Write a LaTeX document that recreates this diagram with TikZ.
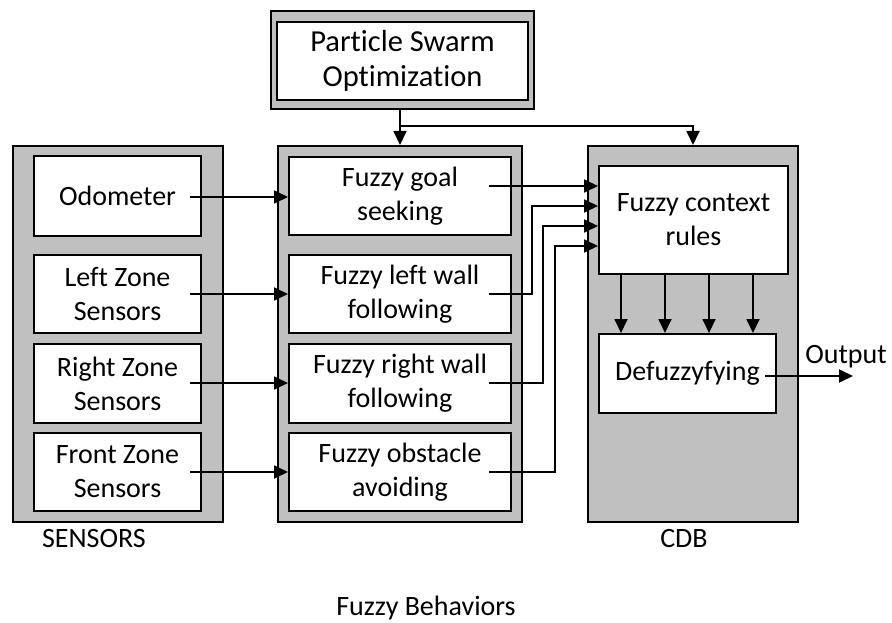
\documentclass[tikz,border=0pt]{standalone}
\usepackage{fontspec}
\setmainfont{Carlito}[Ligatures=NoCommon]
\usetikzlibrary{arrows.meta}
\definecolor{boxgray}{RGB}{192,192,192}
\begin{document}
\begin{tikzpicture}[x=1pt,y=-1pt,
  font=\fontsize{28}{34}\selectfont,
  outerbox/.style={draw, line width=2pt, fill=boxgray, inner sep=0pt},
  innerbox/.style={draw, line width=2pt, fill=white, align=center, inner sep=0pt},
  conn/.style={line width=1.8pt, -{Triangle[length=14pt,width=13pt]}},
  lbl/.style={anchor=base, inner sep=0pt}]
\useasboundingbox (0,0) rectangle (892,623);
% outer boxes
\node[outerbox, minimum width=263pt, minimum height=98pt] (psoo) at (402.5,60) {};
\node[outerbox, minimum width=210pt, minimum height=376pt] (sens) at (117.5,334) {};
\node[outerbox, minimum width=244pt, minimum height=376pt] (beh) at (400,334) {};
\node[outerbox, minimum width=210pt, minimum height=376pt] (cdb) at (693,334) {};
% PSO
\node[innerbox, minimum width=251pt, minimum height=78pt, font=\fontsize{30.5}{35}\selectfont] (pso) at (402.5,61) {Particle Swarm\\Optimization};
% sensors
\node[innerbox, minimum width=167pt, minimum height=80pt] (odo) at (117.5,196) {Odometer};
\node[innerbox, minimum width=167pt, minimum height=78pt] (lzs) at (117.5,294) {Left Zone\\Sensors};
\node[innerbox, minimum width=167pt, minimum height=79pt] (rzs) at (117.5,383.5) {Right Zone\\Sensors};
\node[innerbox, minimum width=167pt, minimum height=78pt] (fzs) at (117.5,472) {Front Zone\\Sensors};
% behaviors
\node[innerbox, minimum width=222pt, minimum height=78pt] (goal) at (400,196) {Fuzzy goal\\seeking};
\node[innerbox, minimum width=222pt, minimum height=78pt] (lwf) at (400,294) {Fuzzy left wall\\following};
\node[innerbox, minimum width=222pt, minimum height=79pt] (rwf) at (400,383.5) {Fuzzy right wall\\following};
\node[innerbox, minimum width=222pt, minimum height=78pt] (obs) at (400,472) {Fuzzy obstacle\\avoiding};
% CDB
\node[innerbox, minimum width=189pt, minimum height=108pt] (ctx) at (693.5,220) {Fuzzy context\\rules};
\node[innerbox, minimum width=177pt, minimum height=79pt] (def) at (687.5,373.5) {Defuzzyfying};
% labels
\node[lbl] (lsens) at (94,547) {SENSORS};
\node[lbl] (lcdb) at (684,547) {CDB};
\node[lbl] (lbeh) at (426,615) {Fuzzy Behaviors};
\node[lbl] (lout) at (846,363) {Output};
% PSO connectors
\coordinate (psoout) at (400,109);
\coordinate (br) at (400,126);
\draw[conn] (psoout) -- (psoout |- beh.north);
\draw[conn] (br) -- (br -| cdb.north) -- (cdb.north);
% sensor -> behavior
\coordinate (s1) at (190,197);
\coordinate (s2) at (190,294);
\coordinate (s3) at (190,383);
\coordinate (s4) at (190,472);
\draw[conn] (s1) -- (s1 -| goal.west);
\draw[conn] (s2) -- (s2 -| lwf.west);
\draw[conn] (s3) -- (s3 -| rwf.west);
\draw[conn] (s4) -- (s4 -| obs.west);
% behavior -> context
\coordinate (b1) at (489,186);
\coordinate (b2) at (489,294);
\coordinate (b3) at (489,383);
\coordinate (b4) at (489,472);
\draw[conn] (b1) -- (b1 -| ctx.west);
\draw[conn] (b2) -| (532,206) -- (532,206 -| ctx.west);
\draw[conn] (b3) -| (543,226) -- (543,226 -| ctx.west);
\draw[conn] (b4) -| (555,246) -- (555,246 -| ctx.west);
% context -> defuzz
\foreach \xx in {621,665,709,753}
  \draw[conn] (ctx.south -| \xx,0) -- (def.north -| \xx,0);
% output
\coordinate (d1) at (765,376);
\coordinate (outend) at (853,376);
\draw[conn] (d1) -- (outend);
\end{tikzpicture}
\end{document}
